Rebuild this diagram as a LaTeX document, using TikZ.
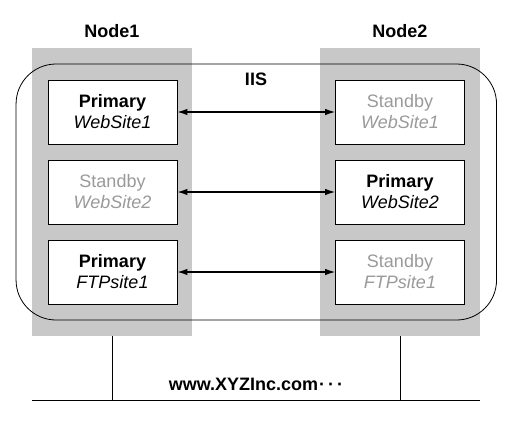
\documentclass[tikz,border=0pt]{standalone}
\usepackage{fontspec}
\setmainfont{Liberation Sans}
\usetikzlibrary{arrows.meta}
\definecolor{panel}{HTML}{C8C8C8}
\definecolor{dim}{HTML}{9A9A9A}
\tikzset{
  site/.style={draw=black, fill=white, line width=0.8pt, minimum width=129pt, minimum height=64pt, inner sep=0pt, align=center, font=\fontsize{18}{21}\selectfont},
  dimsite/.style={site, text=dim},
  link/.style={line width=1.2pt, {Latex[length=10pt,width=6.5pt]}-{Latex[length=10pt,width=6.5pt]}},
  title/.style={font=\fontsize{18}{20}\selectfont\bfseries}
}
\begin{document}
\begin{tikzpicture}[x=1pt,y=-1pt]
\useasboundingbox (0,0) rectangle (512,432);
\fill[panel] (32,48) rectangle (192,336);
\fill[panel] (320,48) rectangle (480,336);
\node[draw, line width=0.8pt, rounded corners=40pt, minimum width=480.5pt, minimum height=256pt, inner sep=0pt] (iis) at (256.3,192) {};
\node[title] (n1) at (112,31) {Node1};
\node[title] (n2) at (400,31) {Node2};
\node[title] (iislbl) at (256,79) {IIS};
\node[site] (a1) at (112.5,112) {\textbf{Primary}\\\textit{WebSite1}};
\node[dimsite] (a2) at (112.5,192) {Standby\\\textit{WebSite2}};
\node[site] (a3) at (112.5,272) {\textbf{Primary}\\\textit{FTPsite1}};
\node[dimsite] (b1) at (400,112) {Standby\\\textit{WebSite1}};
\node[site] (b2) at (400,192) {\textbf{Primary}\\\textit{WebSite2}};
\node[dimsite] (b3) at (400,272) {Standby\\\textit{FTPsite1}};
\draw[link] (a1) -- (b1);
\draw[link] (a2) -- (b2);
\draw[link] (a3) -- (b3);
\coordinate (l0) at (32,400);
\coordinate (l1) at (480,400);
\coordinate (v1t) at (112,336);
\coordinate (v1b) at (112,400);
\coordinate (v2t) at (400,336);
\coordinate (v2b) at (400,400);
\draw[line width=0.8pt] (l0) -- (l1);
\draw[line width=0.8pt] (v1t) -- (v1b);
\draw[line width=0.8pt] (v2t) -- (v2b);
\node[title] (url) at (256,384) {www.XYZInc.com\hspace{1pt}·\hspace{3pt}·\hspace{3pt}·};
\end{tikzpicture}
\end{document}
